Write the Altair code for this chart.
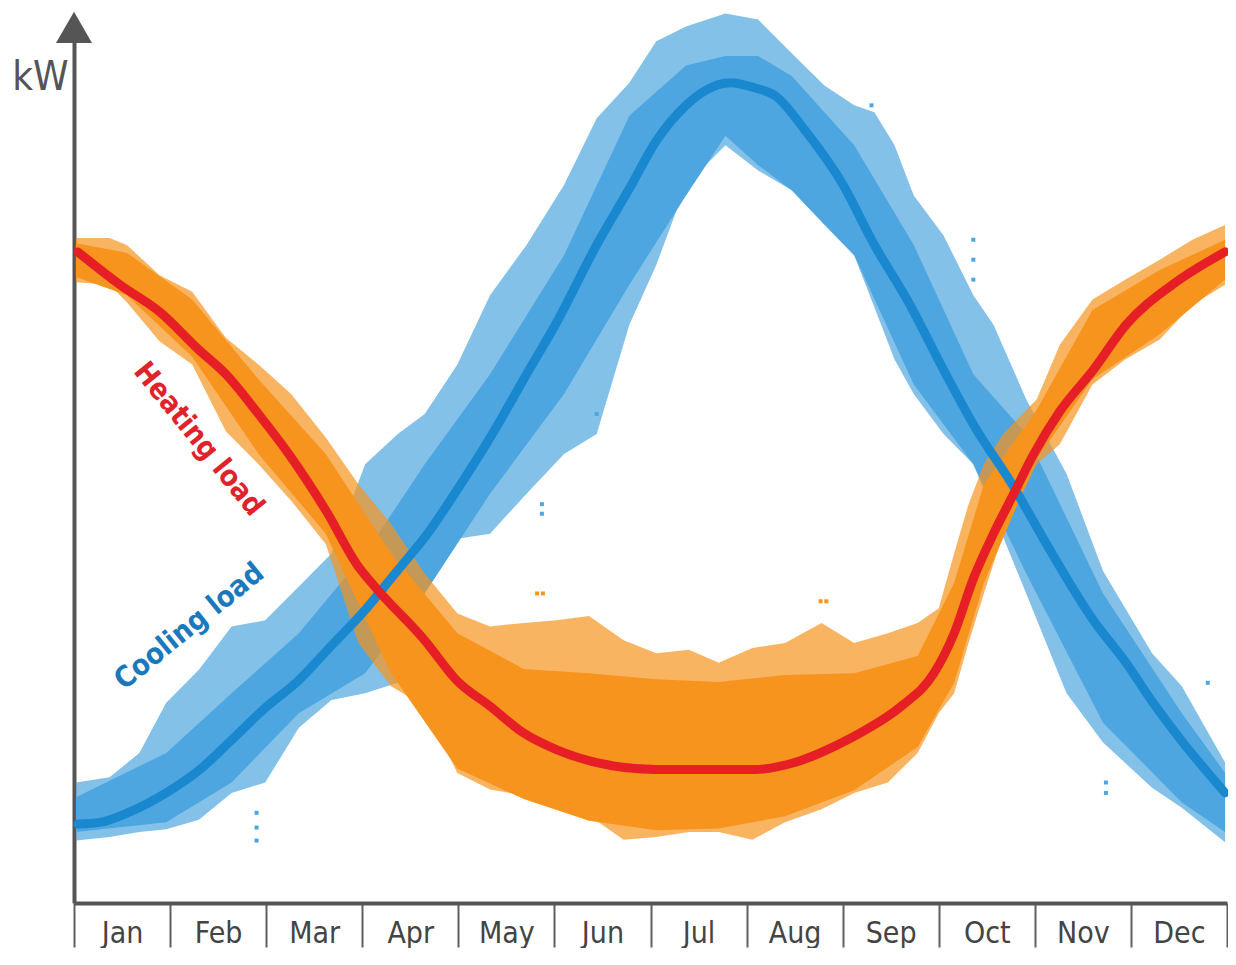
import json
import altair as alt
import pandas as pd

MONTHS = ["Jan", "Feb", "Mar", "Apr", "May", "Jun", "Jul", "Aug", "Sep", "Oct", "Nov", "Dec"]

# Heating-load scatter envelope (outer, sparse) : month position, upper kW, lower kW
ORANGE_M = [0.02, 0.37, 0.55, 0.89, 1.23, 1.58, 1.92, 2.26, 2.62, 2.96, 3.30, 3.65, 3.99, 4.33, 4.68,
            5.02, 5.36, 5.72, 6.06, 6.40, 6.71, 7.06, 7.40, 7.78, 8.12, 8.47, 8.78, 9.00, 9.16, 9.31,
            9.47, 9.67, 10.02, 10.26, 10.60, 10.94, 11.30, 11.64, 11.98]
ORANGE_HI = [76.7, 76.7, 75.9, 72.4, 70.5, 65.2, 62.1, 58.7, 53.7, 48.3, 43.7, 38.0, 33.4, 31.9, 32.3,
             32.6, 33.1, 30.3, 28.8, 29.2, 27.7, 29.4, 30.0, 32.3, 30.0, 31.1, 32.3, 34.0, 40.3, 46.0,
             50.6, 54.1, 58.1, 64.4, 69.6, 71.9, 74.2, 76.5, 78.2]
ORANGE_LO = [71.6, 71.3, 69.3, 64.8, 62.1, 54.4, 50.6, 46.4, 41.4, 30.0, 25.0, 22.7, 15.0, 13.1, 12.4,
             11.3, 10.1, 7.3, 7.6, 8.2, 8.2, 7.3, 9.3, 10.8, 12.7, 13.9, 17.3, 21.9, 24.2, 30.0,
             35.7, 42.6, 50.6, 52.9, 59.8, 62.7, 65.0, 69.0, 71.3]

# Heating-load scatter dense core
ORANGE_CORE_M = [0.02, 0.55, 1.23, 1.92, 2.62, 3.30, 3.99, 4.68, 5.36, 6.06, 6.71, 7.40, 8.12, 8.78,
                 9.16, 9.47, 10.02, 10.60, 11.30, 11.98]
ORANGE_CORE_HI = [76.1, 75.0, 69.6, 60.4, 51.8, 40.3, 31.1, 27.0, 26.5, 25.8, 25.5, 26.3, 26.5, 28.5,
                  36.9, 48.3, 56.9, 68.4, 73.0, 76.5]
ORANGE_CORE_LO = [72.2, 70.1, 63.0, 51.8, 42.6, 26.5, 15.5, 12.0, 9.5, 8.4, 8.6, 10.0, 13.0, 18.0,
                  25.4, 36.9, 51.2, 60.4, 65.6, 71.9]

# Cooling-load scatter envelope (outer)
BLUE_M = [0.02, 0.37, 0.68, 0.96, 1.30, 1.64, 1.99, 2.34, 2.68, 3.03, 3.37, 3.65, 3.99, 4.33, 4.71,
          5.10, 5.44, 5.78, 6.06, 6.37, 6.78, 7.12, 7.47, 7.81, 8.12, 8.33, 8.54, 8.74, 9.05, 9.36,
          9.57, 9.91, 10.33, 10.71, 11.22, 11.53, 11.98]
BLUE_HI = [13.9, 14.5, 17.3, 23.1, 26.9, 31.9, 32.6, 36.5, 40.3, 50.6, 54.1, 56.4, 62.1, 70.1, 75.9,
           82.8, 90.5, 94.6, 99.4, 101.1, 102.6, 101.9, 98.0, 94.3, 92.0, 91.2, 87.4, 81.6, 77.0, 70.1,
           66.7, 58.1, 49.5, 38.3, 28.8, 25.0, 16.2]
BLUE_LO = [7.2, 7.6, 8.2, 8.5, 9.6, 12.7, 13.9, 20.2, 23.4, 24.2, 25.4, 36.9, 42.0, 42.6, 47.2,
           51.8, 54.1, 66.7, 73.6, 82.8, 87.4, 84.5, 82.2, 78.2, 74.7, 68.7, 62.7, 58.7, 54.1, 50.6,
           44.9, 35.7, 24.2, 18.5, 13.3, 11.0, 7.0]

# Cooling-load scatter dense core
BLUE_CORE_M = [0.02, 0.96, 1.64, 2.34, 3.03, 3.65, 4.33, 5.10, 5.78, 6.37, 6.78, 7.12, 7.47, 8.12,
               8.74, 9.36, 9.91, 10.71, 11.53, 11.98]
BLUE_CORE_HI = [12.2, 17.3, 24.2, 31.1, 40.3, 50.6, 61.0, 74.7, 90.8, 96.6, 97.7, 97.7, 95.4, 87.4,
                75.9, 61.0, 54.1, 35.7, 21.9, 15.0]
BLUE_CORE_LO = [8.2, 9.3, 13.9, 21.9, 26.5, 35.7, 47.2, 58.7, 71.3, 81.6, 88.5, 85.1, 82.2, 74.7,
                59.8, 50.6, 38.0, 20.8, 11.6, 8.2]

# Isolated readings
BLUE_OUT_M = [1.90, 1.90, 1.90, 4.87, 4.87, 5.44, 9.36, 9.36, 9.36, 10.74, 10.74, 11.80, 8.30]
BLUE_OUT_KW = [10.4, 8.7, 7.2, 44.9, 46.0, 56.4, 76.5, 74.2, 71.9, 13.9, 12.7, 25.4, 92.0]
ORANGE_OUT_M = [4.82, 4.88, 7.77, 7.83]
ORANGE_OUT_KW = [35.7, 35.7, 34.8, 34.8]

# Smoothed trend lines
HEAT_M = [0.04, 0.48, 0.89, 1.30, 1.58, 1.92, 2.26, 2.62, 2.96, 3.13, 3.65, 3.99, 4.33, 4.68, 5.02,
          5.44, 6.06, 7.09, 7.50, 7.92, 8.23, 8.61, 8.95, 9.16, 9.36, 9.57, 9.78, 9.98, 10.26, 10.61,
          10.95, 11.43, 11.98]
HEAT_KW = [75.1, 71.3, 68.2, 63.8, 61.0, 56.4, 51.4, 45.3, 38.8, 36.5, 30.3, 25.6, 22.7, 19.6, 17.7,
           16.2, 15.4, 15.4, 16.2, 18.1, 19.9, 22.7, 26.5, 31.1, 37.4, 42.6, 47.2, 51.6, 56.7, 61.5,
           66.7, 71.3, 75.1]
COOL_M = [0.04, 0.27, 0.58, 0.96, 1.30, 1.64, 1.99, 2.34, 2.68, 3.03, 3.37, 3.68, 3.99, 4.37, 4.71,
          5.02, 5.44, 5.78, 6.06, 6.37, 6.57, 6.83, 7.09, 7.30, 7.61, 7.99, 8.33, 8.67, 9.05, 9.36,
          9.78, 10.09, 10.61, 10.95, 11.23, 11.50, 11.98]
COOL_KW = [9.1, 9.3, 10.5, 12.7, 15.3, 18.8, 22.5, 25.7, 29.7, 33.8, 38.4, 42.6, 47.7, 54.4, 61.0,
           66.9, 75.9, 82.4, 87.9, 92.0, 93.7, 94.6, 94.0, 93.1, 89.1, 83.1, 75.9, 69.6, 61.5, 55.2,
           48.0, 42.0, 32.6, 27.7, 23.1, 19.1, 12.7]

LABEL_TEXT = ["Heating load", "Cooling load"]
LABEL_M = [1.30, 1.20]
LABEL_KW = [53.5, 31.9]

UNIT_TEXT = ["kW"]
UNIT_M = [-0.35]
UNIT_KW = [95.2]
ARROW_M = [0.0]
ARROW_KW = [101.0]

AXIS_COLOR = "#555555"
FONT = "Liberation Sans Narrow, DejaVu Sans Condensed, Roboto Condensed, Roboto"

label_expr = "datum.value < 12 ? " + json.dumps(MONTHS) + "[datum.value] : ''"

x_axis = alt.Axis(
    values=list(range(13)), labelExpr=label_expr, labelOffset=48, labelAngle=0,
    tickSize=44, tickWidth=2, tickColor="#5f5f5f",
    domainWidth=4, domainColor=AXIS_COLOR, grid=False, title=None,
    labelFont=FONT, labelFontSize=30, labelColor="#444444",
    labelBaseline="alphabetic", labelPadding=-5, labelFlush=False, labelOverlap=False,
)
y_axis = alt.Axis(domainWidth=4, domainColor=AXIS_COLOR, ticks=False, labels=False,
                  grid=False, title=None)


def X():
    return alt.X("m:Q", scale=alt.Scale(domain=[0, 12], nice=False, zero=False), axis=x_axis)


def Y(field):
    return alt.Y(field, scale=alt.Scale(domain=[0, 100], nice=False, zero=False), axis=y_axis)


def band(ms, hi, lo, color, opacity):
    df = pd.DataFrame({"m": ms, "hi": hi, "lo": lo})
    return alt.Chart(df).mark_area(color=color, opacity=opacity, interpolate="linear").encode(
        x=X(), y=Y("hi:Q"), y2="lo:Q")


def dots(ms, kw, color):
    df = pd.DataFrame({"m": ms, "kW": kw})
    return alt.Chart(df).mark_square(size=16, color=color, opacity=1).encode(x=X(), y=Y("kW:Q"))


def line(ms, kw, color):
    df = pd.DataFrame({"m": ms, "kW": kw})
    return alt.Chart(df).mark_line(color=color, strokeWidth=9, interpolate="monotone",
                                   strokeCap="round").encode(x=X(), y=Y("kW:Q"))


BLUE_DOT = "#4ea6e0"
ORANGE_DOT = "#f7941e"

blue_outer = band(BLUE_M, BLUE_HI, BLUE_LO, BLUE_DOT, 0.7)
blue_core = band(BLUE_CORE_M, BLUE_CORE_HI, BLUE_CORE_LO, BLUE_DOT, 1)
blue_pts = dots(BLUE_OUT_M, BLUE_OUT_KW, BLUE_DOT)
orange_outer = band(ORANGE_M, ORANGE_HI, ORANGE_LO, ORANGE_DOT, 0.7)
orange_core = band(ORANGE_CORE_M, ORANGE_CORE_HI, ORANGE_CORE_LO, ORANGE_DOT, 1)
orange_pts = dots(ORANGE_OUT_M, ORANGE_OUT_KW, ORANGE_DOT)

cool_line = line(COOL_M, COOL_KW, "#1a88cf")
heat_line = line(HEAT_M, HEAT_KW, "#e61f27")

lab_df = pd.DataFrame({"m": LABEL_M, "kW": LABEL_KW, "t": LABEL_TEXT})
heat_lab = alt.Chart(lab_df[lab_df.t == "Heating load"]).mark_text(
    angle=51, font=FONT, fontWeight="bold", fontSize=29, color="#e0222b",
    align="center", baseline="middle").encode(x=X(), y=Y("kW:Q"), text="t:N")
cool_lab = alt.Chart(lab_df[lab_df.t == "Cooling load"]).mark_text(
    angle=321, font=FONT, fontWeight="bold", fontSize=29, color="#1a78bd",
    align="center", baseline="middle").encode(x=X(), y=Y("kW:Q"), text="t:N")

unit = alt.Chart(pd.DataFrame({"m": UNIT_M, "kW": UNIT_KW, "t": UNIT_TEXT})).mark_text(
    font=FONT, fontSize=40, color=AXIS_COLOR, align="center", baseline="middle"
).encode(x=X(), y=Y("kW:Q"), text="t:N")

arrow = alt.Chart(pd.DataFrame({"m": ARROW_M, "kW": ARROW_KW})).mark_point(
    shape="triangle-up", size=1296, filled=True, color=AXIS_COLOR, opacity=1
).encode(x=X(), y=Y("kW:Q"))

chart = alt.layer(
    blue_outer, blue_core, blue_pts, orange_outer, orange_core, orange_pts,
    cool_line, heat_line, heat_lab, cool_lab, unit, arrow
).properties(
    width=1153, height=867,
    autosize=alt.AutoSizeParams(type="none"),
    padding={"left": 66, "top": 28, "right": 1, "bottom": 45},
    background="white",
).configure_view(stroke=None)

chart.save("out.html", embed_options={"renderer": "svg", "actions": False})
